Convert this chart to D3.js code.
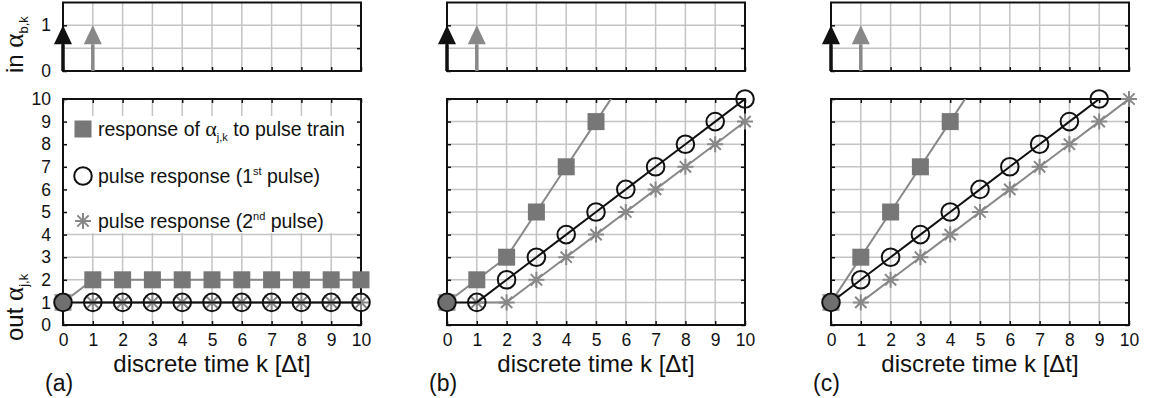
<!DOCTYPE html>
<html>
<head>
<meta charset="utf-8">
<script src="https://cdn.jsdelivr.net/npm/d3@7"></script>
<style>
  body { margin: 0; background: #fff; }
  svg { display: block; font-family: "Liberation Sans", Arial, sans-serif; }
  .tick text { font-size: 17.5px; fill: #111; }
</style>
</head>
<body>
<div id="chart"></div>
<script>
// discrete time axis and tick labels
const K_TICKS = [0, 1, 2, 3, 4, 5, 6, 7, 8, 9, 10];
const IN_TICKS = [0, 1];
const OUT_TICKS = [0, 1, 2, 3, 4, 5, 6, 7, 8, 9, 10];
const PANEL_NAMES = ["(a)", "(b)", "(c)"];

// input pulses (k, amplitude): first pulse black, second gray
const PULSE_K = [0, 1];
const PULSE_V = [1, 1];

// panel (a)
const TRAIN_A = [1, 2, 2, 2, 2, 2, 2, 2, 2, 2, 2];
const FIRST_A = [1, 1, 1, 1, 1, 1, 1, 1, 1, 1, 1];
const SECOND_A = [null, 1, 1, 1, 1, 1, 1, 1, 1, 1, 1];
// panel (b)
const TRAIN_B = [1, 2, 3, 5, 7, 9, 11];
const FIRST_B = [1, 1, 2, 3, 4, 5, 6, 7, 8, 9, 10];
const SECOND_B = [null, 1, 1, 2, 3, 4, 5, 6, 7, 8, 9];
// panel (c)
const TRAIN_C = [1, 3, 5, 7, 9, 11];
const FIRST_C = [1, 2, 3, 4, 5, 6, 7, 8, 9, 10, 11];
const SECOND_C = [null, 1, 2, 3, 4, 5, 6, 7, 8, 9, 10];

const PANELS = [
  {train: TRAIN_A, first: FIRST_A, second: SECOND_A},
  {train: TRAIN_B, first: FIRST_B, second: SECOND_B},
  {train: TRAIN_C, first: FIRST_C, second: SECOND_C}
];

// frame
const WIDTH = 1156, HEIGHT = 398;
const PANEL_X = [63, 447, 831];
const PANEL_W = 298;
const TOP = {y0: 2.5, y1: 71};
const BOT = {y0: 99, y1: 325};

const DARK = "#111", GRAY = "#888", FILL_GRAY = "#777", GRID = "#c4c4c4";

const svg = d3.select("#chart").append("svg")
  .attr("width", WIDTH).attr("height", HEIGHT);

const defs = svg.append("defs");

function kv(arr) {
  return arr.map((v, i) => ({k: K_TICKS[i], v: v})).filter(d => d.v !== null);
}

function starPath(r) {
  const d = r * Math.SQRT1_2;
  return `M${-r},0L${r},0M0,${-r}L0,${r}M${-d},${-d}L${d},${d}M${-d},${d}L${d},${-d}`;
}

PANELS.forEach((p, i) => {
  const x0 = PANEL_X[i];
  const x = d3.scaleLinear().domain([0, 10]).range([x0, x0 + PANEL_W]);
  const yIn = d3.scaleLinear().domain([0, 1.5]).range([TOP.y1, TOP.y0]);
  const yOut = d3.scaleLinear().domain([0, 10]).range([BOT.y1, BOT.y0]);

  // ---------- input panel ----------
  const gi = svg.append("g");
  gi.selectAll(".vg").data(K_TICKS.slice(1, -1)).join("line")
    .attr("x1", d => x(d)).attr("x2", d => x(d))
    .attr("y1", TOP.y0).attr("y2", TOP.y1)
    .attr("stroke", GRID).attr("stroke-width", 1.5);
  gi.selectAll(".hg").data([0.5, 1]).join("line")
    .attr("x1", x0).attr("x2", x0 + PANEL_W)
    .attr("y1", d => yIn(d)).attr("y2", d => yIn(d))
    .attr("stroke", GRID).attr("stroke-width", 1.5);

  gi.append("g").attr("transform", `translate(0,${TOP.y1})`)
    .call(d3.axisBottom(x).tickValues(K_TICKS).tickSizeInner(-4).tickSizeOuter(0).tickFormat(""))
    .call(g => g.select(".domain").remove());
  const leftIn = gi.append("g").attr("transform", `translate(${x0},0)`)
    .call(d3.axisLeft(yIn).tickValues(IN_TICKS).tickFormat(d3.format("d"))
      .tickSizeInner(-4).tickSizeOuter(0).tickPadding(12));
  leftIn.select(".domain").remove();
  if (i > 0) leftIn.selectAll("text").remove();
  gi.append("g").attr("transform", `translate(${x0 + PANEL_W},0)`)
    .call(d3.axisRight(yIn).tickValues([0.5, 1]).tickSizeInner(-4).tickSizeOuter(0).tickFormat(""))
    .call(g => g.select(".domain").remove());
  gi.selectAll(".tick line").attr("stroke", DARK).attr("stroke-width", 1.5);

  gi.append("rect").attr("x", x0).attr("y", TOP.y0)
    .attr("width", PANEL_W).attr("height", TOP.y1 - TOP.y0)
    .attr("fill", "none").attr("stroke", DARK).attr("stroke-width", 2);

  // arrows
  PULSE_K.forEach((k, j) => {
    const col = j === 0 ? DARK : GRAY;
    const ax = x(k), tip = yIn(PULSE_V[j]), base = tip + 19;
    gi.append("line").attr("x1", ax).attr("x2", ax)
      .attr("y1", yIn(0)).attr("y2", base)
      .attr("stroke", col).attr("stroke-width", 3.5);
    gi.append("path")
      .attr("d", `M${ax},${tip}L${ax - 9},${base}L${ax + 9},${base}Z`)
      .attr("fill", col);
  });

  // ---------- output panel ----------
  const go = svg.append("g");
  const clipId = "clip" + i;
  defs.append("clipPath").attr("id", clipId).append("rect")
    .attr("x", x0).attr("y", BOT.y0).attr("width", PANEL_W).attr("height", BOT.y1 - BOT.y0);

  go.selectAll(".vg").data(K_TICKS.slice(1, -1)).join("line")
    .attr("x1", d => x(d)).attr("x2", d => x(d))
    .attr("y1", BOT.y0).attr("y2", BOT.y1)
    .attr("stroke", GRID).attr("stroke-width", 1.5);
  go.selectAll(".hg").data(OUT_TICKS.slice(1, -1)).join("line")
    .attr("x1", x0).attr("x2", x0 + PANEL_W)
    .attr("y1", d => yOut(d)).attr("y2", d => yOut(d))
    .attr("stroke", GRID).attr("stroke-width", 1.5);

  // legend box (panel a) hides the grid behind it
  if (i === 0) {
    go.append("rect").attr("x", x0 + 1).attr("y", 116)
      .attr("width", PANEL_W - 2).attr("height", 117).attr("fill", "#fff");
  }

  const bottomAxis = go.append("g").attr("transform", `translate(0,${BOT.y1})`)
    .call(d3.axisBottom(x).tickValues(K_TICKS).tickSizeInner(-4).tickSizeOuter(0).tickPadding(9));
  bottomAxis.select(".domain").remove();
  go.append("g").attr("transform", `translate(0,${BOT.y0})`)
    .call(d3.axisTop(x).tickValues(K_TICKS).tickSizeInner(-4).tickSizeOuter(0).tickFormat(""))
    .call(g => g.select(".domain").remove());
  const leftOut = go.append("g").attr("transform", `translate(${x0},0)`)
    .call(d3.axisLeft(yOut).tickValues(OUT_TICKS).tickSizeInner(-4).tickSizeOuter(0).tickPadding(12));
  leftOut.select(".domain").remove();
  if (i > 0) leftOut.selectAll("text").remove();
  go.append("g").attr("transform", `translate(${x0 + PANEL_W},0)`)
    .call(d3.axisRight(yOut).tickValues(OUT_TICKS).tickSizeInner(-4).tickSizeOuter(0).tickFormat(""))
    .call(g => g.select(".domain").remove());
  go.selectAll(".tick line").attr("stroke", DARK).attr("stroke-width", 1.5);

  go.append("rect").attr("x", x0).attr("y", BOT.y0)
    .attr("width", PANEL_W).attr("height", BOT.y1 - BOT.y0)
    .attr("fill", "none").attr("stroke", DARK).attr("stroke-width", 2);

  const line = d3.line().x(d => x(d.k)).y(d => yOut(d.v));
  const inDomain = d => d.v <= 10;

  const train = kv(p.train), first = kv(p.first), second = kv(p.second);

  // pulse train response
  go.append("path").datum(train).attr("clip-path", `url(#${clipId})`)
    .attr("d", line).attr("fill", "none").attr("stroke", GRAY).attr("stroke-width", 2);
  go.selectAll(".sq").data(train.filter(inDomain)).join("rect")
    .attr("x", d => x(d.k) - 8.5).attr("y", d => yOut(d.v) - 8.5)
    .attr("width", 17).attr("height", 17)
    .attr("fill", (d, j) => j === 0 ? "#9a9a9a" : FILL_GRAY);

  // second pulse response
  go.append("path").datum(second).attr("clip-path", `url(#${clipId})`)
    .attr("d", line).attr("fill", "none").attr("stroke", GRAY).attr("stroke-width", 2);
  go.selectAll(".st").data(second.filter(inDomain)).join("path")
    .attr("transform", d => `translate(${x(d.k)},${yOut(d.v)})`)
    .attr("d", starPath(8)).attr("fill", "none")
    .attr("stroke", GRAY).attr("stroke-width", 2);

  // first pulse response
  go.append("path").datum(first).attr("clip-path", `url(#${clipId})`)
    .attr("d", line).attr("fill", "none").attr("stroke", DARK).attr("stroke-width", 2);
  go.selectAll(".ci").data(first.filter(inDomain)).join("circle")
    .attr("cx", d => x(d.k)).attr("cy", d => yOut(d.v)).attr("r", 8.8)
    .attr("fill", (d, j) => j === 0 ? "#707070" : "none")
    .attr("stroke", DARK).attr("stroke-width", 2);

  // x label and panel name
  svg.append("text").attr("x", x0 + PANEL_W / 2).attr("y", 372)
    .attr("text-anchor", "middle").attr("font-size", 24).attr("fill", "#111")
    .text("discrete time k [Δt]");
  svg.append("text").attr("x", x0 - 18).attr("y", 391)
    .attr("font-size", 23).attr("fill", "#111").text(PANEL_NAMES[i]);
});

// y labels
function yLabel(word, sub, xPos, yPos) {
  const t = svg.append("text")
    .attr("transform", `translate(${xPos},${yPos}) rotate(-90)`)
    .attr("font-size", 24).attr("fill", "#111");
  t.append("tspan").text(word + " ");
  t.append("tspan").attr("font-family", "Liberation Serif, serif").attr("font-size", 27).text("α");
  t.append("tspan").attr("font-size", 13).attr("dy", 5).text(sub);
}
yLabel("in", "b,k", 23, 73);
yLabel("out", "j,k", 23, 341);

// legend in panel (a)
const LEG_X = 83;
const legend = svg.append("g").attr("fill", "#111").attr("font-size", 19.5);
legend.append("rect").attr("x", LEG_X - 8.5).attr("y", 129 - 8.5)
  .attr("width", 17).attr("height", 17).attr("fill", FILL_GRAY);
legend.append("circle").attr("cx", LEG_X).attr("cy", 176).attr("r", 8.8)
  .attr("fill", "none").attr("stroke", DARK).attr("stroke-width", 2);
legend.append("path").attr("transform", `translate(${LEG_X},221)`)
  .attr("d", starPath(8)).attr("fill", "none").attr("stroke", GRAY).attr("stroke-width", 2);

const l1 = legend.append("text").attr("x", 98).attr("y", 136);
l1.append("tspan").text("response of ");
l1.append("tspan").attr("font-family", "Liberation Serif, serif").attr("font-size", 22).text("α");
l1.append("tspan").attr("font-size", 11).attr("dy", 5).text("j,k");
l1.append("tspan").attr("dy", -5).text(" to pulse train");

const l2 = legend.append("text").attr("x", 98).attr("y", 183);
l2.append("tspan").text("pulse response (1");
l2.append("tspan").attr("font-size", 11).attr("dy", -8).text("st");
l2.append("tspan").attr("dy", 8).text(" pulse)");

const l3 = legend.append("text").attr("x", 98).attr("y", 228);
l3.append("tspan").text("pulse response (2");
l3.append("tspan").attr("font-size", 11).attr("dy", -8).text("nd");
l3.append("tspan").attr("dy", 8).text(" pulse)");
</script>
</body>
</html>
